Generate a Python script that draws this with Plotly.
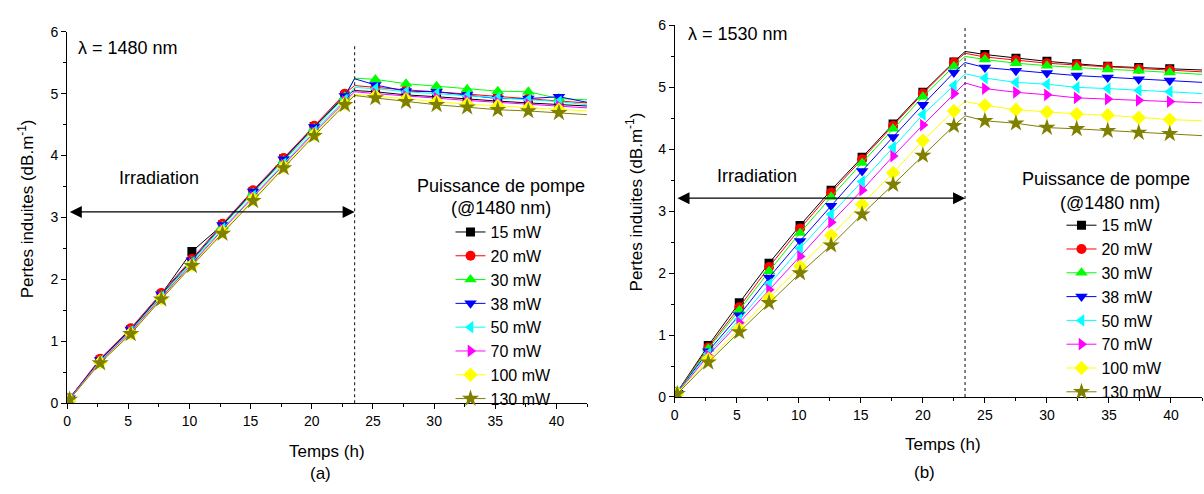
import plotly.graph_objects as go

W, H = 1204, 494
FONT = "Liberation Sans, Arial, sans-serif"

labels = ["15 mW", "20 mW", "30 mW", "38 mW", "50 mW", "70 mW", "100 mW", "130 mW"]
colors = ["#000000", "#FF0000", "#00FF00", "#0000FF", "#00FFFF", "#FF00FF", "#FFFF00", "#808000"]
symbols = ["square", "circle", "triangle-up", "triangle-down", "triangle-left", "triangle-right", "diamond", "star"]
msizes = [9, 10, 11, 11, 11, 11, 11, 13]

# ---------- panel (a): lambda = 1480 nm ----------
t_a = [0.2, 2.7, 5.2, 7.7, 10.2, 12.7, 15.2, 17.7, 20.2, 22.7,
       25.2, 27.7, 30.2, 32.7, 35.2, 37.7, 40.2]
t_a_peak = 23.5
t_end = 42.5
a_vals = {
    "15 mW":  [0.08, 0.70, 1.19, 1.76, 2.45, 2.88, 3.42, 3.95, 4.47, 4.97, 5.03, 4.98, 4.95, 4.91, 4.88, 4.85, 4.82],
    "20 mW":  [0.08, 0.72, 1.21, 1.78, 2.33, 2.90, 3.44, 3.96, 4.48, 5.00, 5.10, 5.06, 5.03, 4.99, 4.96, 4.92, 4.88],
    "30 mW":  [0.06, 0.68, 1.17, 1.74, 2.29, 2.86, 3.40, 3.92, 4.44, 4.95, 5.23, 5.16, 5.12, 5.07, 5.04, 5.03, 4.92],
    "38 mW":  [0.08, 0.70, 1.19, 1.76, 2.31, 2.88, 3.42, 3.94, 4.46, 4.96, 5.14, 5.04, 5.03, 4.98, 4.92, 4.92, 4.95],
    "50 mW":  [0.07, 0.68, 1.16, 1.72, 2.27, 2.82, 3.35, 3.87, 4.39, 4.90, 5.08, 5.03, 5.00, 4.96, 4.93, 4.90, 4.87],
    "70 mW":  [0.07, 0.67, 1.15, 1.71, 2.25, 2.80, 3.33, 3.85, 4.37, 4.87, 5.00, 4.96, 4.93, 4.89, 4.86, 4.83, 4.80],
    "100 mW": [0.06, 0.66, 1.13, 1.69, 2.23, 2.77, 3.30, 3.82, 4.34, 4.84, 4.96, 4.91, 4.87, 4.83, 4.80, 4.77, 4.74],
    "130 mW": [0.06, 0.65, 1.12, 1.68, 2.22, 2.74, 3.27, 3.80, 4.32, 4.82, 4.93, 4.87, 4.82, 4.78, 4.74, 4.72, 4.69],
}
a_peak = {"15 mW": 5.05, "20 mW": 5.13, "30 mW": 5.25, "38 mW": 5.24,
          "50 mW": 5.10, "70 mW": 5.03, "100 mW": 4.99, "130 mW": 4.97}
a_end = {"15 mW": 4.80, "20 mW": 4.85, "30 mW": 4.90, "38 mW": 4.86,
         "50 mW": 4.82, "70 mW": 4.77, "100 mW": 4.72, "130 mW": 4.66}

# ---------- panel (b): lambda = 1530 nm ----------
t_b = [0.2, 2.7, 5.2, 7.6, 10.1, 12.6, 15.1, 17.6, 20.0, 22.5,
       25.0, 27.5, 30.0, 32.4, 34.9, 37.4, 39.9]
t_b_peak = 23.4
b_vals = {
    "15 mW":  [0.08, 0.83, 1.52, 2.16, 2.77, 3.34, 3.87, 4.41, 4.92, 5.41, 5.53, 5.47, 5.42, 5.38, 5.34, 5.32, 5.30],
    "20 mW":  [0.08, 0.80, 1.45, 2.10, 2.72, 3.30, 3.84, 4.38, 4.90, 5.40, 5.49, 5.44, 5.39, 5.36, 5.33, 5.30, 5.28],
    "30 mW":  [0.07, 0.78, 1.40, 2.03, 2.65, 3.23, 3.78, 4.33, 4.85, 5.34, 5.45, 5.39, 5.35, 5.32, 5.29, 5.27, 5.24],
    "38 mW":  [0.07, 0.74, 1.32, 1.93, 2.52, 3.09, 3.65, 4.20, 4.72, 5.24, 5.32, 5.27, 5.23, 5.19, 5.16, 5.13, 5.11],
    "50 mW":  [0.07, 0.70, 1.25, 1.82, 2.40, 2.95, 3.48, 4.03, 4.56, 5.03, 5.15, 5.08, 5.05, 5.00, 4.98, 4.95, 4.93],
    "70 mW":  [0.06, 0.67, 1.20, 1.73, 2.27, 2.82, 3.34, 3.89, 4.39, 4.90, 4.98, 4.92, 4.88, 4.83, 4.81, 4.79, 4.77],
    "100 mW": [0.06, 0.61, 1.10, 1.60, 2.11, 2.61, 3.11, 3.62, 4.14, 4.62, 4.71, 4.64, 4.60, 4.57, 4.55, 4.51, 4.48],
    "130 mW": [0.05, 0.56, 1.05, 1.52, 2.00, 2.45, 2.95, 3.43, 3.90, 4.38, 4.46, 4.42, 4.35, 4.33, 4.30, 4.27, 4.25],
}
b_peak = {"15 mW": 5.58, "20 mW": 5.55, "30 mW": 5.50, "38 mW": 5.40,
          "50 mW": 5.22, "70 mW": 5.07, "100 mW": 4.77, "130 mW": 4.54}
b_end = {"15 mW": 5.28, "20 mW": 5.25, "30 mW": 5.21, "38 mW": 5.08,
         "50 mW": 4.90, "70 mW": 4.75, "100 mW": 4.46, "130 mW": 4.22}

fig = go.Figure()


def add_panel(t, vals, t_peak, peak, end, xa, ya, legname):
    for lab, col, sym, ms in zip(labels, colors, symbols, msizes):
        v = vals[lab]
        xs = t[:10] + [t_peak] + t[10:] + [t_end]
        ys = v[:10] + [peak[lab]] + v[10:] + [end[lab]]
        fig.add_trace(go.Scatter(x=xs, y=ys, mode="lines", xaxis=xa, yaxis=ya,
                                 line=dict(color=col, width=1), showlegend=False,
                                 hoverinfo="skip"))
        fig.add_trace(go.Scatter(x=t, y=v, mode="markers", xaxis=xa, yaxis=ya,
                                 marker=dict(color=col, symbol=sym, size=ms, line=dict(width=0)),
                                 showlegend=False))
        fig.add_trace(go.Scatter(x=[None], y=[None], mode="lines+markers", xaxis=xa, yaxis=ya,
                                 name=lab, legend=legname,
                                 line=dict(color=col, width=1),
                                 marker=dict(color=col, symbol=sym, size=ms, line=dict(width=0))))


add_panel(t_a, a_vals, t_a_peak, a_peak, a_end, "x", "y", "legend")
add_panel(t_b, b_vals, t_b_peak, b_peak, b_end, "x2", "y2", "legend2")


def px(xp):
    return xp / W


def py(yp):
    return 1 - yp / H


axis_common = dict(showgrid=False, zeroline=False, showline=True, linecolor="black", linewidth=1,
                   ticks="outside", ticklen=5, tickwidth=1, tickcolor="black",
                   tickfont=dict(family=FONT, size=14, color="black"))

fig.update_layout(
    width=W, height=H, margin=dict(l=0, r=0, t=0, b=0),
    paper_bgcolor="white", plot_bgcolor="white",
    font=dict(family=FONT, color="black"),
    xaxis=dict(domain=[px(63.3), px(585)], range=[0, 42.5], tick0=0, dtick=5, anchor="y",
               minor=dict(dtick=2.5, ticklen=3, ticks="outside", tickcolor="black"), **axis_common),
    yaxis=dict(domain=[py(408.5), py(24.5)], range=[0, 6], dtick=1, anchor="x",
               minor=dict(dtick=0.5, ticklen=3, ticks="outside", tickcolor="black"), **axis_common),
    xaxis2=dict(domain=[px(673), px(1202)], range=[0, 42.5], tick0=0, dtick=5, anchor="y2",
                minor=dict(dtick=2.5, ticklen=3, ticks="outside", tickcolor="black"), **axis_common),
    yaxis2=dict(domain=[py(402), py(18)], range=[0, 6], dtick=1, anchor="x2",
                minor=dict(dtick=0.5, ticklen=3, ticks="outside", tickcolor="black"), **axis_common),
    legend=dict(x=px(448), y=py(214), xanchor="left", yanchor="top", bgcolor="rgba(0,0,0,0)",
                font=dict(family=FONT, size=16, color="black"), tracegroupgap=0),
    legend2=dict(x=px(1061), y=py(207), xanchor="left", yanchor="top", bgcolor="rgba(0,0,0,0)",
                 font=dict(family=FONT, size=16, color="black"), tracegroupgap=0),
)

shapes = [
    dict(type="line", xref="x", yref="y", x0=t_a_peak, x1=t_a_peak, y0=0, y1=5.77,
         line=dict(color="#333333", width=1.2, dash="dot")),
    dict(type="line", xref="x2", yref="y2", x0=t_b_peak, x1=t_b_peak, y0=0, y1=6,
         line=dict(color="#333333", width=1.2, dash="dot")),
]
fig.update_layout(shapes=shapes)

ann = []
# double arrows
ann.append(dict(x=t_a_peak, y=3.09, ax=0.1, ay=3.09, xref="x", yref="y", axref="x", ayref="y",
                text="", showarrow=True, arrowhead=2, startarrowhead=2, arrowside="end+start",
                arrowsize=2, startarrowsize=2, arrowwidth=1.2, arrowcolor="black",
                standoff=0, startstandoff=0))
ann.append(dict(x=t_b_peak, y=3.21, ax=0.1, ay=3.21, xref="x2", yref="y2", axref="x2", ayref="y2",
                text="", showarrow=True, arrowhead=2, startarrowhead=2, arrowside="end+start",
                arrowsize=2, startarrowsize=2, arrowwidth=1.2, arrowcolor="black",
                standoff=0, startstandoff=0))


def txt(x, y, s, size=16, angle=0, xanchor="center"):
    ann.append(dict(x=px(x), y=py(y), xref="paper", yref="paper", text=s, showarrow=False,
                    xanchor=xanchor, yanchor="middle", textangle=angle,
                    font=dict(family=FONT, size=size, color="black")))


txt(72, 41, "λ = 1480 nm", 18, xanchor="left")
txt(684, 27, "λ = 1530 nm", 18, xanchor="left")
txt(156, 176, "Irradiation", 18)
txt(756, 174, "Irradiation", 18)
txt(499, 184, "Puissance de pompe", 18)
txt(499, 207, "(@1480 nm)", 18)
txt(1106, 177, "Puissance de pompe", 18)
txt(1110, 202, "(@1480 nm)", 18)
txt(22, 207, "Pertes induites (dB.m<sup>-1</sup>)", 17, angle=-90)
txt(632, 200, "Pertes induites (dB.m<sup>-1</sup>)", 17, angle=-90)
txt(324, 458, "Temps (h)", 17)
txt(942, 451, "Temps (h)", 17)
txt(318, 481, "(a)", 17)
txt(924, 480, "(b)", 17)

fig.update_layout(annotations=ann)
fig.write_html("out.html", config={"displayModeBar": False},
               post_script="document.body.style.margin='0px';")
